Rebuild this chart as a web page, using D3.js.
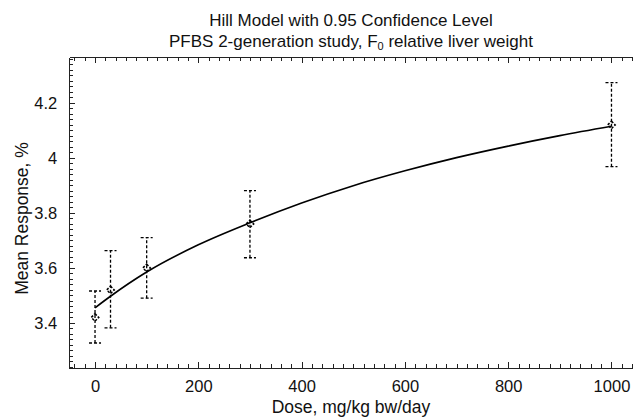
<!DOCTYPE html>
<html>
<head>
<meta charset="utf-8">
<script src="https://cdn.jsdelivr.net/npm/d3@7"></script>
<style>
  html, body { margin: 0; padding: 0; background: #fff; }
  svg { display: block; font-family: "Liberation Sans", Arial, sans-serif; }
  .frame { shape-rendering: crispEdges; }
</style>
</head>
<body>
<svg id="chart" width="633" height="418"></svg>
<script>
// Dose groups (mg/kg bw/day) with observed means and 95% confidence limits
const doses = [0, 30, 100, 300, 1000];
const means = [3.42, 3.52, 3.60, 3.76, 4.12];
const lower = [3.327, 3.382, 3.49, 3.637, 3.968];
const upper = [3.516, 3.663, 3.71, 3.881, 4.274];

// Fitted Hill model curve, sampled along the dose range
const curveDose = [0, 30, 100, 200, 300, 400, 500, 600, 700, 800, 900, 1000];
const curveResp = [3.455, 3.497, 3.585, 3.684, 3.764, 3.836, 3.899, 3.953, 4.001, 4.043, 4.081, 4.115];

// Axis ticks
const xTicks = [0, 200, 400, 600, 800, 1000];
const yTicks = [3.4, 3.6, 3.8, 4.0, 4.2];

const titleLines = ["Hill Model with 0.95 Confidence Level"];
const xLabel = "Dose, mg/kg bw/day";
const yLabel = "Mean Response, %";

const svg = d3.select("#chart");

const x = d3.scaleLinear().domain([-50, 1050]).range([69.2, 637.3]);
const y = d3.scaleLinear().domain([3.236, 4.367]).range([368, 57]);

const plotLeft = x.range()[0], plotRight = x.range()[1] + 1.5;
const plotTop = y.range()[1], plotBottom = y.range()[0];

const axisColor = "#222";

// Minor tick positions
const xMinor = d3.range(-40, 1050, 20).filter(v => !xTicks.includes(v));
const yMinor = d3.range(3.24, 4.37, 0.02).map(v => +v.toFixed(2))
  .filter(v => !yTicks.some(t => Math.abs(t - v) < 1e-6));

// Frame edges with inward-pointing ticks
function frameAxis(axisGen, transform, cls) {
  const g = svg.append("g").attr("class", cls + " frame").attr("transform", transform).call(axisGen);
  g.select(".domain").attr("stroke", axisColor).attr("stroke-width", 1.2);
  g.selectAll(".tick line").attr("stroke", axisColor).attr("stroke-width", 1);
  return g;
}

// Bottom axis with labels (ticks point up into the plot)
const gx = frameAxis(
  d3.axisBottom(x).tickValues(xTicks).tickSize(-6).tickSizeOuter(0).tickPadding(12).tickFormat(d3.format("d")),
  `translate(0,${plotBottom})`, "x-axis");
gx.selectAll("text").attr("font-size", 16.5).attr("fill", "#111")
  .attr("font-family", "Liberation Sans, Arial, sans-serif");
frameAxis(d3.axisBottom(x).tickValues(xMinor).tickSize(-4).tickSizeOuter(0).tickFormat(""),
  `translate(0,${plotBottom})`, "x-minor");

// Top edge (ticks point down)
frameAxis(d3.axisTop(x).tickValues(xTicks).tickSize(-6).tickSizeOuter(0).tickFormat(""),
  `translate(0,${plotTop})`, "x-top");
frameAxis(d3.axisTop(x).tickValues(xMinor).tickSize(-4).tickSizeOuter(0).tickFormat(""),
  `translate(0,${plotTop})`, "x-top-minor");

// Left axis with labels (ticks point right)
const gy = frameAxis(
  d3.axisLeft(y).tickValues(yTicks).tickSize(-6).tickSizeOuter(0).tickPadding(12).tickFormat(d3.format("~g")),
  `translate(${plotLeft},0)`, "y-axis");
gy.selectAll("text").attr("font-size", 16.5).attr("fill", "#111")
  .attr("font-family", "Liberation Sans, Arial, sans-serif");
frameAxis(d3.axisLeft(y).tickValues(yMinor).tickSize(-4).tickSizeOuter(0).tickFormat(""),
  `translate(${plotLeft},0)`, "y-minor");

// Right edge (ticks point left)
frameAxis(d3.axisRight(y).tickValues(yTicks).tickSize(-6).tickSizeOuter(0).tickFormat(""),
  `translate(${plotRight},0)`, "y-right");
frameAxis(d3.axisRight(y).tickValues(yMinor).tickSize(-4).tickSizeOuter(0).tickFormat(""),
  `translate(${plotRight},0)`, "y-right-minor");

// Confidence interval bars (dashed)
const dash = "3,2";
const bars = svg.append("g").attr("class", "ci")
  .attr("stroke", "#000").attr("stroke-width", 1.3).attr("stroke-dasharray", dash).attr("fill", "none");
doses.forEach((d, i) => {
  const cx = x(d);
  bars.append("line").attr("x1", cx).attr("x2", cx).attr("y1", y(lower[i])).attr("y2", y(upper[i]));
  bars.append("line").attr("x1", cx - 6).attr("x2", cx + 6).attr("y1", y(upper[i])).attr("y2", y(upper[i]));
  bars.append("line").attr("x1", cx - 6).attr("x2", cx + 6).attr("y1", y(lower[i])).attr("y2", y(lower[i]));
});

// Observed means as dashed diamonds
const diamond = d3.symbol().type(d3.symbolDiamond2).size(36);
svg.append("g").attr("class", "means")
  .selectAll("path").data(doses).join("path")
  .attr("d", diamond)
  .attr("transform", (d, i) => `translate(${x(d)},${y(means[i])})`)
  .attr("fill", "none").attr("stroke", "#000").attr("stroke-width", 1.5)
  .attr("stroke-dasharray", "2.5,1.5");

// Fitted model curve
const line = d3.line().x(d => x(d[0])).y(d => y(d[1])).curve(d3.curveMonotoneX);
svg.append("path")
  .datum(curveDose.map((d, i) => [d, curveResp[i]]))
  .attr("d", line)
  .attr("fill", "none").attr("stroke", "#000").attr("stroke-width", 1.6);

// Titles
const midX = (plotLeft + plotRight) / 2 - 3;
svg.append("text").attr("x", midX).attr("y", 26).attr("text-anchor", "middle")
  .attr("font-size", 17).attr("fill", "#111").text(titleLines[0]);
const t2 = svg.append("text").attr("x", midX).attr("y", 47).attr("text-anchor", "middle")
  .attr("font-size", 17).attr("fill", "#111");
t2.append("tspan").text("PFBS 2-generation study, F");
t2.append("tspan").attr("font-size", 11).attr("dy", 3).text("0");
t2.append("tspan").attr("dy", -3).text(" relative liver weight");

// Axis titles
svg.append("text").attr("x", midX).attr("y", 413).attr("text-anchor", "middle")
  .attr("font-size", 17.5).attr("fill", "#111").text(xLabel);
svg.append("text").attr("transform", `translate(28,${(plotTop + plotBottom) / 2 + 6}) rotate(-90)`)
  .attr("text-anchor", "middle").attr("font-size", 17.5).attr("fill", "#111").text(yLabel);
</script>
</body>
</html>
